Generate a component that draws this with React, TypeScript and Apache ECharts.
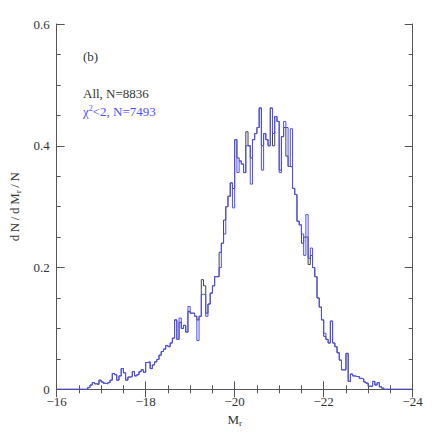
import React, { useEffect, useRef } from "react";
import * as echarts from "echarts";

// Histogram bins: first bin starts at M_r = -16.70, width 0.05 mag (towards brighter)
const BIN_START = -16.7;
const BIN_WIDTH = 0.05;

const X_TICKS = [-16, -18, -20, -22, -24];
const Y_TICKS = [0, 0.2, 0.4, 0.6];

// All galaxies, N=8836
const allValues = [
  0.003, 0.007, 0.011, 0.009, 0.008, 0.015, 0.012, 0.010, 0.009, 0.011,
  0.015, 0.026, 0.024, 0.015, 0.022, 0.034, 0.027, 0.015, 0.020, 0.021,
  0.029, 0.022, 0.024, 0.029, 0.032, 0.028, 0.044, 0.045, 0.034, 0.040,
  0.045, 0.049, 0.056, 0.062, 0.066, 0.072, 0.070, 0.076, 0.084, 0.114,
  0.082, 0.110, 0.100, 0.105, 0.094, 0.128, 0.125, 0.125, 0.120, 0.114,
  0.120, 0.180, 0.170, 0.125, 0.140, 0.158, 0.170, 0.185, 0.185, 0.225,
  0.240, 0.278, 0.300, 0.317, 0.339, 0.330, 0.410, 0.380, 0.375, 0.370,
  0.356, 0.423, 0.400, 0.380, 0.410, 0.420, 0.430, 0.462, 0.400, 0.420,
  0.410, 0.400, 0.462, 0.400, 0.448, 0.440, 0.360, 0.415, 0.430, 0.383,
  0.366, 0.365, 0.330, 0.320, 0.276, 0.270, 0.240, 0.250, 0.250, 0.205,
  0.220, 0.200, 0.185, 0.150, 0.135, 0.114, 0.087, 0.082, 0.076, 0.112,
  0.076, 0.070, 0.060, 0.048, 0.032, 0.032, 0.059, 0.013, 0.025, 0.022,
  0.021, 0.021, 0.018, 0.017, 0.012, 0.010, 0.005, 0.005, 0.013, 0.007,
  0.011, 0.004, 0.002,
];

// chi^2 < 2, N=7493
const chiValues = [
  0.003, 0.007, 0.011, 0.009, 0.008, 0.015, 0.012, 0.010, 0.009, 0.011,
  0.015, 0.026, 0.024, 0.015, 0.022, 0.034, 0.027, 0.015, 0.020, 0.021,
  0.029, 0.022, 0.024, 0.029, 0.032, 0.028, 0.044, 0.045, 0.034, 0.040,
  0.045, 0.049, 0.056, 0.062, 0.066, 0.072, 0.070, 0.076, 0.084, 0.114,
  0.082, 0.117, 0.100, 0.105, 0.094, 0.136, 0.125, 0.125, 0.120, 0.080,
  0.120, 0.156, 0.156, 0.120, 0.140, 0.158, 0.170, 0.185, 0.185, 0.200,
  0.240, 0.255, 0.300, 0.317, 0.339, 0.298, 0.410, 0.356, 0.375, 0.370,
  0.356, 0.400, 0.400, 0.337, 0.410, 0.420, 0.430, 0.462, 0.360, 0.420,
  0.410, 0.400, 0.462, 0.420, 0.448, 0.440, 0.356, 0.415, 0.440, 0.430,
  0.366, 0.428, 0.330, 0.320, 0.276, 0.270, 0.255, 0.220, 0.287, 0.215,
  0.232, 0.200, 0.185, 0.150, 0.135, 0.114, 0.092, 0.082, 0.076, 0.112,
  0.076, 0.070, 0.060, 0.048, 0.032, 0.032, 0.059, 0.013, 0.025, 0.022,
  0.021, 0.021, 0.018, 0.017, 0.012, 0.010, 0.005, 0.005, 0.013, 0.007,
  0.011, 0.004, 0.002,
];

const X_MIN = -24;
const X_MAX = -16;

function edge(i: number): number {
  return +(BIN_START - BIN_WIDTH * i).toFixed(3);
}

function stepData(vals: number[]): number[][] {
  const pts: number[][] = [[X_MAX, 0], [edge(0), 0]];
  vals.forEach((v, i) => pts.push([edge(i), v]));
  pts.push([edge(vals.length), 0]);
  pts.push([X_MIN, 0]);
  return pts;
}

const FONT = "Liberation Serif";
const AXIS_COLOR = "#555";
const TEXT_COLOR = "#333";
const BLUE = "#4d4dff";
const TS = "\u2009"; // thin space, mimics the wide glyph spacing of the original font

function fmtX(v: number): string {
  if (!X_TICKS.includes(v)) return "";
  return v < 0 ? "\u2212" + Math.abs(v) : String(v);
}
function fmtY(v: number): string {
  const hit = Y_TICKS.find((t) => Math.abs(t - v) < 1e-9);
  return hit === undefined ? "" : String(hit);
}

export default function App() {
  const ref = useRef<HTMLDivElement>(null);
  useEffect(() => {
    document.body.style.margin = "0";
    if (!ref.current) return;
    const chart = echarts.init(ref.current, null, { renderer: "svg" });
    const tickCommon = {
      axisLine: { show: true, lineStyle: { color: AXIS_COLOR, width: 1 } },
      axisTick: { show: true, inside: true, length: 8, lineStyle: { color: AXIS_COLOR, width: 1 } },
      minorTick: { show: true, splitNumber: 4, length: 4, lineStyle: { color: AXIS_COLOR, width: 1 } },
      splitLine: { show: false },
      minorSplitLine: { show: false },
    };
    const subRich = {
      sub: { fontFamily: FONT, fontSize: 9, verticalAlign: "bottom", padding: [7, 0, 0, 0], color: TEXT_COLOR },
    };
    chart.setOption({
      animation: false,
      backgroundColor: "#fff",
      grid: { left: 47.5, top: 24, width: 365.2, height: 365.3, containLabel: false },
      xAxis: [
        {
          type: "value",
          min: X_MIN,
          max: X_MAX,
          interval: 2,
          inverse: true,
          position: "bottom",
          ...tickCommon,
          axisLabel: {
            show: true,
            margin: 6,
            color: TEXT_COLOR,
            fontFamily: FONT,
            fontSize: 13,
            align: "center",
            alignMinLabel: "center",
            alignMaxLabel: "center",
            formatter: fmtX,
          },
          name: "M{sub|r}",
          nameLocation: "middle",
          nameGap: 18,
          nameTextStyle: { color: TEXT_COLOR, fontFamily: FONT, fontSize: 13, rich: subRich },
        },
        {
          type: "value",
          min: X_MIN,
          max: X_MAX,
          interval: 2,
          inverse: true,
          position: "top",
          ...tickCommon,
          axisLabel: { show: false },
        },
      ],
      yAxis: [
        {
          type: "value",
          min: 0,
          max: 0.6,
          interval: 0.2,
          position: "left",
          ...tickCommon,
          axisLabel: {
            show: true,
            margin: 7,
            color: TEXT_COLOR,
            fontFamily: FONT,
            fontSize: 13,
            formatter: fmtY,
          },
          name: `d${TS}N${TS}/${TS}d${TS}M{sub|r}${TS}/${TS}N`,
          nameLocation: "middle",
          nameRotate: 90,
          nameGap: 33,
          nameTextStyle: { color: TEXT_COLOR, fontFamily: FONT, fontSize: 13, rich: subRich },
        },
        {
          type: "value",
          min: 0,
          max: 0.6,
          interval: 0.2,
          position: "right",
          ...tickCommon,
          axisLabel: { show: false },
        },
      ],
      series: [
        {
          name: "All, N=8836",
          type: "line",
          step: "end",
          data: stepData(allValues),
          showSymbol: false,
          symbol: "none",
          lineStyle: { color: "#444", width: 1 },
          z: 2,
        },
        {
          name: "χ²<2, N=7493",
          type: "line",
          step: "end",
          data: stepData(chiValues),
          showSymbol: false,
          symbol: "none",
          lineStyle: { color: BLUE, width: 1 },
          z: 3,
        },
      ],
      graphic: [
        {
          type: "text",
          left: 83,
          top: 50,
          style: { text: "(b)", fill: TEXT_COLOR, font: `13px "${FONT}"` },
        },
        {
          type: "text",
          left: 83,
          top: 87,
          style: { text: "All, N=8836", fill: TEXT_COLOR, font: `13px "${FONT}"` },
        },
        {
          type: "text",
          left: 83,
          top: 104,
          style: {
            text: "{a|χ}{s|2}{a|<2, N=7493}",
            rich: {
              a: { fill: BLUE, fontFamily: FONT, fontSize: 13 },
              s: { fill: BLUE, fontFamily: FONT, fontSize: 8, padding: [0, 0, 6, 0] },
            },
          },
        },
      ],
    });
    return () => chart.dispose();
  }, []);
  return <div ref={ref} style={{ width: 436, height: 436 }} />;
}
